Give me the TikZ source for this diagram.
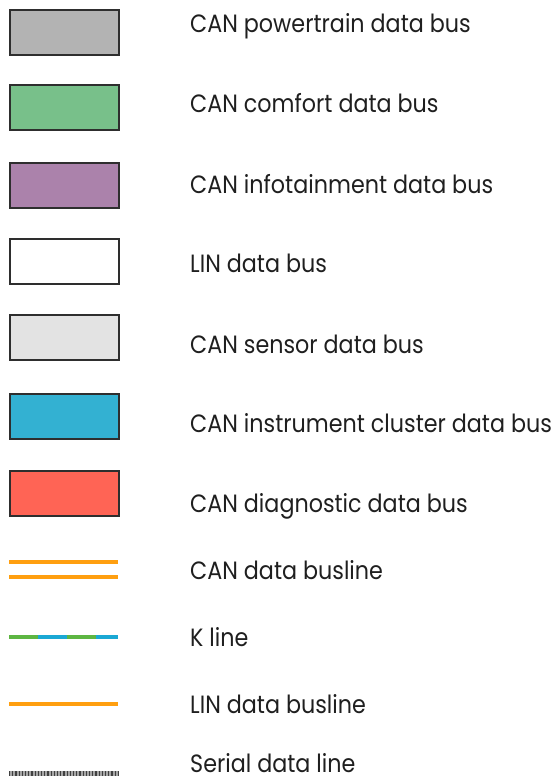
\documentclass[tikz,border=0pt]{standalone}
\usepackage{fontspec}
\setmainfont[FakeStretch=0.89]{Poppins}
\usepackage{tikz}
\usetikzlibrary{positioning}

\definecolor{ptgrey}{HTML}{B3B3B3}
\definecolor{cfgreen}{HTML}{78C08A}
\definecolor{ifpurple}{HTML}{AB82AB}
\definecolor{snsgrey}{HTML}{E3E3E3}
\definecolor{iccyan}{HTML}{33B1D2}
\definecolor{dgred}{HTML}{FF6455}
\definecolor{busorange}{HTML}{FF9F10}
\definecolor{kgreen}{HTML}{5DB642}
\definecolor{kblue}{HTML}{1AA8D4}

\begin{document}
\begin{tikzpicture}[x=1pt, y=-1pt,
    lbl/.style={anchor=base west, inner sep=0pt, font=\fontsize{25}{29}\selectfont, text=black!88},
    busbox/.style={draw=black!82, line width=2pt, minimum width=109pt, minimum height=45pt, inner sep=0pt},
    busline/.style={line width=4pt, busorange}
]
    \useasboundingbox (0,0) rectangle (557,779);
    % colour boxes
    \node[busbox, fill=ptgrey] (pt) at (64,32.5) {};
    \node[busbox, fill=cfgreen] (cf) at (64,107.5) {};
    \node[busbox, fill=ifpurple] (inf) at (64,185) {};
    \node[busbox, fill=white] (lin) at (64,261.5) {};
    \node[busbox, fill=snsgrey] (sns) at (64,337) {};
    \node[busbox, fill=iccyan] (ic) at (64,416.5) {};
    \node[busbox, fill=dgred] (dg) at (64,493.5) {};
    % line samples
    \draw[busline] (9,562) -- (118,562);
    \draw[busline] (9,577) -- (118,577);
    \draw[line width=4pt, kgreen] (9,637) -- (38,637);
    \draw[line width=4pt, kblue] (38,637) -- (67,637);
    \draw[line width=4pt, kgreen] (67,637) -- (96,637);
    \draw[line width=4pt, kblue] (96,637) -- (118,637);
    \draw[busline] (9,704) -- (118,704);
    \draw[line width=5pt, black!35] (9,773) -- (118,773);
    \draw[line width=5pt, black!75, dash pattern=on 1.2pt off 2pt] (9,773) -- (118,773);
    % labels
    \node[lbl] (ptl) at (190,32) {CAN powertrain data bus};
    \node[lbl] (cfl) at (190,112) {CAN comfort data bus};
    \node[lbl] (infl) at (190,193) {CAN infotainment data bus};
    \node[lbl] (linl) at (190,272) {LIN data bus};
    \node[lbl] (snsl) at (190,353) {CAN sensor data bus};
    \node[lbl] (icl) at (190,432) {CAN instrument cluster data bus};
    \node[lbl] (dgl) at (190,512) {CAN diagnostic data bus};
    \node[lbl] (canl) at (190,579) {CAN data busline};
    \node[lbl] (kl) at (190,646) {K line};
    \node[lbl] (linll) at (190,713) {LIN data busline};
    \node[lbl] (serl) at (190,772) {Serial data line};
\end{tikzpicture}
\end{document}
